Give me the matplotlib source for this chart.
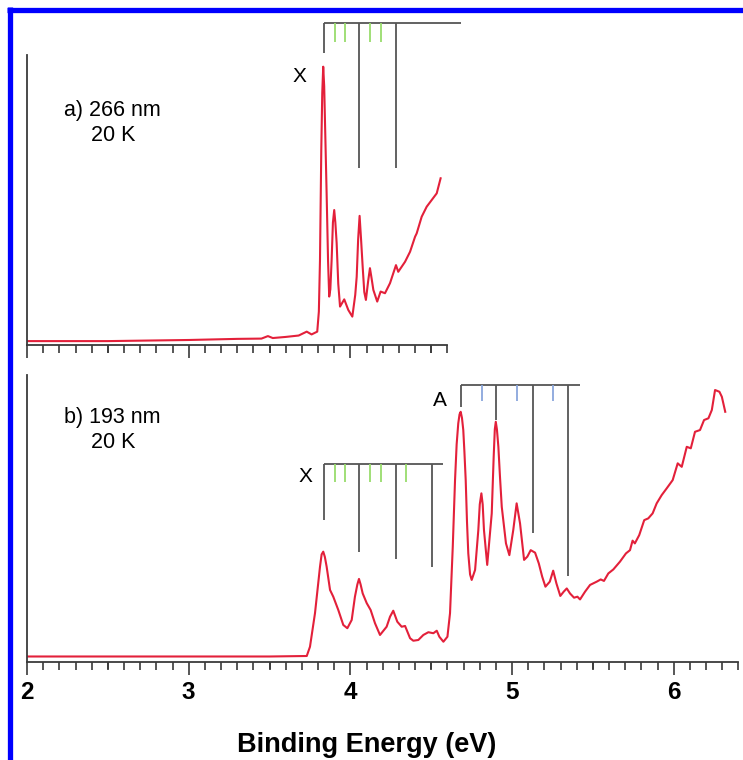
import numpy as np
import matplotlib
matplotlib.use('Agg')
import matplotlib.pyplot as plt
from matplotlib.lines import Line2D
from matplotlib.ticker import MultipleLocator, NullFormatter
import matplotlib.transforms as mtransforms

plt.rcParams['font.family'] = ['Liberation Sans', 'DejaVu Sans']

# ---------------------------------------------------------------------------- #
# a) 266 nm spectrum (binding energy in eV, intensity in arb. units)
ea = [2.00, 2.50, 3.00, 3.30, 3.45, 3.49, 3.52, 3.60, 3.68, 3.73, 3.76, 3.795,
      3.805, 3.812, 3.820, 3.826, 3.832, 3.838, 3.845, 3.853, 3.862, 3.869,
      3.876, 3.884, 3.892, 3.900, 3.907, 3.915, 3.925, 3.936, 3.962,
      3.987, 4.012, 4.030, 4.039, 4.048, 4.057, 4.066, 4.076, 4.086, 4.096,
      4.110, 4.121, 4.131, 4.142, 4.166, 4.187,
      4.214, 4.245, 4.282, 4.296, 4.338, 4.369, 4.400, 4.410, 4.441, 4.472,
      4.503, 4.534, 4.558]
ia = [0.014, 0.014, 0.018, 0.022, 0.023, 0.032, 0.025, 0.029, 0.034, 0.048, 0.038, 0.048,
      0.120, 0.305, 0.700, 0.905, 1.000, 0.930, 0.750, 0.546, 0.300, 0.174,
      0.200, 0.305, 0.440, 0.485, 0.440, 0.367, 0.220, 0.138, 0.164,
      0.126, 0.102, 0.180, 0.245, 0.380, 0.464, 0.380, 0.281, 0.190, 0.162,
      0.230, 0.276, 0.240, 0.198, 0.156, 0.192,
      0.186, 0.222, 0.287, 0.263, 0.299, 0.335, 0.389, 0.401, 0.461, 0.497,
      0.521, 0.545, 0.599]

# b) 193 nm spectrum
eb = [2.00, 2.50, 3.00, 3.50, 3.730, 3.750, 3.781, 3.812, 3.822, 3.832, 3.842, 3.853,
      3.874, 3.894, 3.925, 3.956, 3.981, 4.008, 4.028, 4.043, 4.053, 4.063, 4.076,
      4.101, 4.125, 4.152, 4.183, 4.224, 4.245, 4.265, 4.290, 4.317, 4.338,
      4.369, 4.389, 4.420, 4.451, 4.482, 4.513, 4.534, 4.550, 4.575, 4.600,
      4.616, 4.633, 4.647, 4.657, 4.667, 4.675, 4.682, 4.690, 4.698, 4.705,
      4.713, 4.721, 4.729, 4.740, 4.750, 4.771, 4.791, 4.800, 4.810, 4.818,
      4.826, 4.846, 4.874, 4.886, 4.893, 4.899, 4.906, 4.915, 4.925, 4.936,
      4.962, 4.983, 5.007, 5.028, 5.049, 5.074, 5.094, 5.115, 5.142, 5.165,
      5.186, 5.206, 5.233, 5.254, 5.274, 5.298, 5.319, 5.338, 5.358, 5.383,
      5.404, 5.420, 5.451, 5.482, 5.523, 5.548, 5.568, 5.595, 5.626, 5.667,
      5.704, 5.729, 5.745, 5.759, 5.786, 5.817, 5.842, 5.869, 5.894, 5.925,
      5.956, 5.993, 6.024, 6.049, 6.080, 6.105, 6.131, 6.162, 6.187, 6.214,
      6.235, 6.255, 6.282, 6.297, 6.318]
ib = [0.022, 0.022, 0.022, 0.022, 0.024, 0.061, 0.195, 0.381, 0.430, 0.441, 0.420, 0.381,
      0.288, 0.261, 0.208, 0.148, 0.135, 0.168, 0.261, 0.310, 0.332, 0.310, 0.274,
      0.235, 0.208, 0.155, 0.108, 0.141, 0.181, 0.205, 0.161, 0.141, 0.144,
      0.095, 0.085, 0.088, 0.108, 0.119, 0.115, 0.125, 0.101, 0.081, 0.101,
      0.195, 0.461, 0.727, 0.870, 0.954, 0.990, 1.000, 0.975, 0.927, 0.840,
      0.727, 0.560, 0.434, 0.350, 0.328, 0.368, 0.527, 0.630, 0.674, 0.630,
      0.527, 0.388, 0.594, 0.820, 0.930, 0.960, 0.930, 0.860, 0.740, 0.620,
      0.474, 0.427, 0.527, 0.634, 0.554, 0.408, 0.421, 0.447, 0.437, 0.394,
      0.341, 0.301, 0.321, 0.365, 0.314, 0.264, 0.281, 0.294, 0.274, 0.257,
      0.261, 0.250, 0.281, 0.308, 0.321, 0.330, 0.324, 0.354, 0.370, 0.401,
      0.434, 0.447, 0.485, 0.474, 0.507, 0.567, 0.574, 0.594, 0.634, 0.667,
      0.694, 0.727, 0.794, 0.780, 0.860, 0.854, 0.920, 0.927, 0.967, 0.974,
      1.007, 1.087, 1.080, 1.060, 1.000]

# Franck-Condon stick assignments (eV)
x_origin = 3.837
x_main = [4.053, 4.282, 4.505]
x_minor = [3.905, 3.967, 4.121, 4.189, 4.344]
a_origin = 4.684
a_main = [4.900, 5.129, 5.346]
a_minor = [4.814, 5.030, 5.253]

red = '#e3203a'
grey = '#555555'
green = '#98dc6c'
blue = '#8aa6dc'

# ---------------------------------------------------------------------------- #
fig = plt.figure(figsize=(7.43, 7.60), dpi=100)
W, H = 743., 760.
ax1 = fig.add_axes([27/W, (H-345)/H, 420.4/W, 290/H])
ax2 = fig.add_axes([27/W, (H-662)/H, 711.5/W, 287/H])


def style(ax, xmax, ymax, labels):
    ax.set_xlim(2, xmax)
    ax.set_ylim(0, ymax)
    for s in ['top', 'right']:
        ax.spines[s].set_visible(False)
    for s in ['left', 'bottom']:
        ax.spines[s].set_color('#3a3a3a')
        ax.spines[s].set_linewidth(1.3)
    ax.set_yticks([])
    ax.xaxis.set_major_locator(MultipleLocator(1))
    ax.xaxis.set_minor_locator(MultipleLocator(0.1))
    ax.tick_params(axis='x', which='major', direction='out', length=9, width=1.2,
                   color='#3a3a3a', labelsize=17.5, pad=5)
    ax.tick_params(axis='x', which='minor', direction='out', length=5.5, width=1.2,
                   color='#3a3a3a')
    # half-eV ticks a bit longer
    trans = mtransforms.blended_transform_factory(ax.transData, ax.transAxes)
    halfs = np.arange(2.5, xmax, 1.0)
    ax.vlines(halfs, -0.026, 0, transform=trans, color='#3a3a3a', lw=1.2, clip_on=False)
    if labels:
        for t in ax.get_xticklabels():
            t.set_fontweight('bold')
    else:
        ax.xaxis.set_major_formatter(NullFormatter())


style(ax1, 4.6, 1.042, False)
style(ax2, 6.4, 1.147, True)

ax1.plot(ea, ia, color=red, lw=1.5, solid_joinstyle='round')
ax2.plot(eb, ib, color=red, lw=1.5, solid_joinstyle='round')


def comb(ax, x0, x1, y, y0, main, main_bot, minor, minor_bot, col):
    ax.hlines(y, x0, x1, color=grey, lw=1.3, clip_on=False)
    ax.vlines(x0, y0, y, color=grey, lw=1.3, clip_on=False)
    ax.vlines(main, main_bot, y, color=grey, lw=1.3, clip_on=False)
    ax.vlines(minor, minor_bot, y, color=col, lw=1.3, clip_on=False)


# top panel X comb (above the axes)
comb(ax1, x_origin, 4.684, 1.157, 1.049, x_main[:2], 0.636, x_minor[:4], 1.089, green)
ax1.text(3.688, 0.963, 'X', fontsize=15, ha='center', va='center')
ax1.text(2.53, 0.844, 'a) 266 nm', fontsize=15.5, ha='center', va='center')
ax1.text(2.53, 0.751, '20 K', fontsize=15.5, ha='center', va='center')

# bottom panel X and A combs
comb(ax2, x_origin, 4.573, 0.791, 0.567, x_main, [0.439, 0.412, 0.380], x_minor, 0.719, green)
comb(ax2, a_origin, 5.42, 1.107, 1.019, a_main, [0.967, 0.515, 0.344], a_minor, 1.043, blue)
ax2.text(3.725, 0.743, 'X', fontsize=15, ha='center', va='center')
ax2.text(4.554, 1.047, 'A', fontsize=15, ha='center', va='center')
ax2.text(2.53, 0.979, 'b) 193 nm', fontsize=15.5, ha='center', va='center')
ax2.text(2.53, 0.879, '20 K', fontsize=15.5, ha='center', va='center')

ax2.set_xlabel('Binding Energy (eV)', fontsize=19.5, fontweight='bold')
ax2.xaxis.set_label_coords(0.478, -0.245)

# blue frame (left and top edges)
fig.add_artist(Line2D([9.5/W, 9.5/W], [0, 1 - 7/H], color='#0000ff', lw=3.8,
                      transform=fig.transFigure, solid_capstyle='butt'))
fig.add_artist(Line2D([7/W, 1], [1 - 9.5/H, 1 - 9.5/H], color='#0000ff', lw=3.8,
                      transform=fig.transFigure, solid_capstyle='butt'))

fig.savefig('out.png', dpi=100)
